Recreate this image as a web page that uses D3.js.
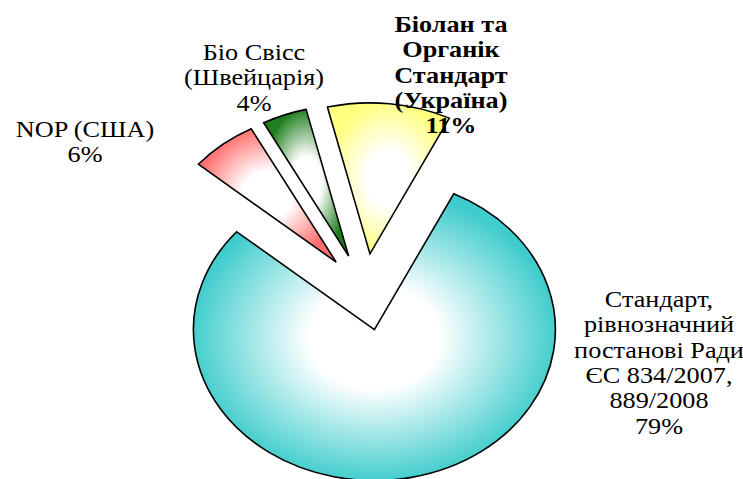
<!DOCTYPE html>
<html>
<head>
<meta charset="utf-8">
<script src="https://cdn.jsdelivr.net/npm/d3@7"></script>
<style>
  html, body { margin: 0; padding: 0; background: #fff; }
  svg { display: block; }
</style>
</head>
<body>
<svg id="pie-chart"></svg>
<script>
const width = 743;
const height = 479;

// data (clockwise order as drawn)
const categories = [
    ['Стандарт,', 'рівнозначний', 'постанові Ради', 'ЄС 834/2007,', '889/2008'],
    ['NOP (США)'],
    ['Біо Свісс', '(Швейцарія)'],
    ['Біолан та', 'Органік', 'Стандарт', '(Україна)']
];
const values = [79, 6, 4, 11];
const colors = ['#3fcccc', '#ff6f6f', '#1f7f1f', '#ffff80'];

// label placement (centre x, first baseline, bold)
const labelPos = [
    { x: 659, y: 307, bold: false },
    { x: 85, y: 137, bold: false },
    { x: 254, y: 60, bold: false },
    { x: 451, y: 32, bold: true }
];

const cx = 365, cy = 292;
const rx = 181, k = 151 / 181;
const explode = 46;
const startAngle = 26 * Math.PI / 180;
const lineH = 25.3;
const stretch = 1.14;
const serif = "'Times New Roman', 'Liberation Serif', Tinos, serif";

const svg = d3.select('#pie-chart')
    .attr('width', width)
    .attr('height', height);

const defs = svg.append('defs');
colors.forEach((c, i) => {
    const g = defs.append('radialGradient')
        .attr('id', 'grad' + i)
        .attr('cx', '50%').attr('cy', '50%').attr('r', '60%');
    g.append('stop').attr('offset', '0%').attr('stop-color', '#ffffff');
    g.append('stop').attr('offset', '30%').attr('stop-color', '#ffffff');
    g.append('stop').attr('offset', '85%').attr('stop-color', c);
    g.append('stop').attr('offset', '100%').attr('stop-color', c);
});

const pie = d3.pie().sort(null).value(d => d)
    .startAngle(startAngle).endAngle(startAngle + 2 * Math.PI);
const arcs = pie(values);
const total = d3.sum(values);
const arc = d3.arc().innerRadius(0).outerRadius(rx);

const slice = svg.selectAll('g.slice')
    .data(arcs)
    .enter().append('g')
    .attr('class', 'slice')
    .attr('transform', d => {
        const mid = (d.startAngle + d.endAngle) / 2;
        const dx = explode * Math.sin(mid);
        const dy = -explode * Math.cos(mid) * k;
        return `translate(${cx + dx}, ${cy + dy}) scale(1, ${k})`;
    });

slice.append('path')
    .attr('d', arc)
    .attr('fill', (d, i) => `url(#grad${i})`)
    .attr('stroke', '#000')
    .attr('stroke-width', 1.6)
    .attr('stroke-linejoin', 'miter')
    .attr('vector-effect', 'non-scaling-stroke');

// labels: one text per line, widened a little like the original
arcs.forEach((d, i) => {
    const p = labelPos[i];
    const lines = categories[i].concat([Math.round(d.value / total * 100) + '%']);
    lines.forEach((s, j) => {
        const t = svg.append('text')
            .attr('x', p.x)
            .attr('y', p.y + j * lineH)
            .attr('text-anchor', 'middle')
            .style('font-family', serif)
            .style('font-size', '23px')
            .style('font-weight', p.bold ? 'bold' : 'normal')
            .style('fill', '#000')
            .text(s);
        const w = t.node().getComputedTextLength();
        t.attr('textLength', w * stretch).attr('lengthAdjust', 'spacingAndGlyphs');
    });
});
</script>
</body>
</html>
